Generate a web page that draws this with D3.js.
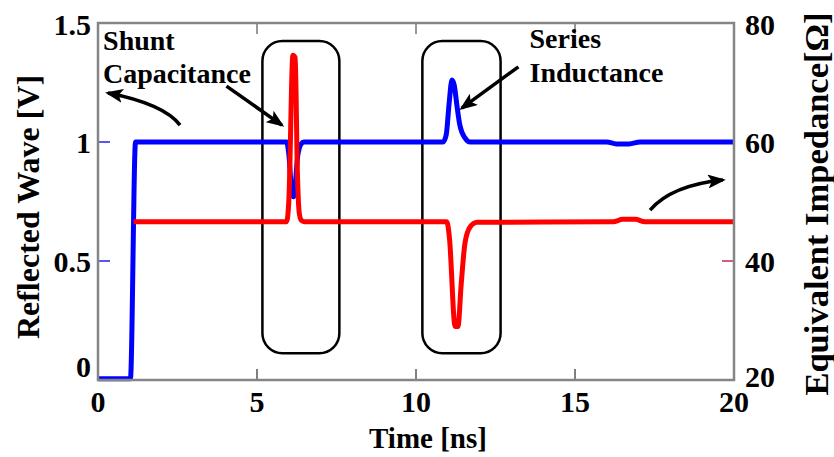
<!DOCTYPE html>
<html><head><meta charset="utf-8">
<script src="https://cdn.jsdelivr.net/npm/d3@7"></script>
<style>body{margin:0;background:#fff}svg{display:block}text{font-family:"Liberation Serif","Times New Roman",serif;font-weight:bold;fill:#000}</style>
</head><body><svg id="c" width="834" height="457"></svg>
<script>
// ---- data ----
const xTicks = [0, 5, 10, 15, 20];
const leftTicks = [0, 0.5, 1, 1.5];
const leftTickLabels = ["0", "0.5", "1", "1.5"];
const rightTicks = [20, 40, 60, 80];
// Reflected wave [V] (blue)
const reflT = [0, 1.02, 1.18, 5.93, 6.0, 6.1, 6.15, 6.29, 6.38, 6.48, 10.85, 10.95, 11.04, 11.13, 11.2, 11.3, 11.38, 11.54, 11.7, 16.0, 16.3, 16.7, 17.05, 20];
const reflV = [0.005, 0.005, 1, 1, 0.95, 0.78, 0.77, 0.95, 0.99, 1, 1, 1.03, 1.16, 1.26, 1.24, 1.14, 1.07, 1.017, 1, 1, 0.992, 0.992, 1, 1];
// Equivalent impedance [Ohm] (red)
const impT = [1.12, 5.93, 6.0, 6.13, 6.2, 6.27, 6.33, 6.4, 6.5, 10.97, 11.05, 11.23, 11.32, 11.42, 11.54, 11.7, 11.92, 16.2, 16.5, 16.9, 17.2, 20];
const impV = [46.6, 46.6, 50, 74.6, 74.2, 55, 48, 46.8, 46.6, 46.6, 44, 29, 29, 36, 43.0, 45.7, 46.5, 46.6, 47.0, 47.0, 46.6, 46.6];
// annotation boxes (time, volts)
const boxT0 = [5.17, 10.2], boxT1 = [7.59, 12.66];
const boxV0 = [0.112, 0.112], boxV1 = [1.424, 1.424];
// annotation labels
const labelText = ["Shunt", "Capacitance", "Series", "Inductance"];
const labelT = [0.16, 0.16, 13.57, 13.57];
const labelV = [1.387, 1.248, 1.395, 1.253];
// straight arrows
const sArrowT0 = [4.04, 13.22], sArrowV0 = [1.235, 1.316];
const sArrowT1 = [5.78, 11.44], sArrowV1 = [1.071, 1.142];
// curved arrows: start, control, end
const cArrowT = [[2.58, 2.075, 0.314], [17.36, 18.05, 19.65]];
const cArrowV = [[1.071, 1.160, 1.206], [0.714, 0.819, 0.840]];

// ---- layout ----
const L = 98, R = 734, T = 23, B = 380;
const svg = d3.select("#c");
const x = d3.scaleLinear().domain([0, 20]).range([L, R]);
const yL = d3.scaleLinear().domain([0, 1.5]).range([B, T]);
const yR = d3.scaleLinear().domain([20, 80]).range([B, T]);

svg.append("defs").append("marker").attr("id", "ah")
  .attr("markerUnits", "userSpaceOnUse").attr("viewBox", "0 0 18 14")
  .attr("markerWidth", 18).attr("markerHeight", 14).attr("refX", 15).attr("refY", 7)
  .attr("orient", "auto")
  .append("path").attr("d", "M0,0 L18,7 L0,14 L4,7 Z").attr("fill", "#000");

// inner ticks
const g = svg.append("g");
xTicks.slice(1, -1).forEach(v => {
  g.append("line").attr("x1", x(v)).attr("x2", x(v)).attr("y1", B).attr("y2", B - 11).attr("stroke", "#000").attr("stroke-width", 1);
  g.append("line").attr("x1", x(v)).attr("x2", x(v)).attr("y1", T).attr("y2", T + 11).attr("stroke", "#333").attr("stroke-width", 1);
});
leftTicks.forEach(v => g.append("line").attr("x1", L).attr("x2", L + 12).attr("y1", yL(v)).attr("y2", yL(v)).attr("stroke", "#2222ee").attr("stroke-width", 1.5));
rightTicks.forEach(v => g.append("line").attr("x1", R).attr("x2", R - 12).attr("y1", yR(v)).attr("y2", yR(v)).attr("stroke", "#c02858").attr("stroke-width", 1.5));

// boxes
boxT0.forEach((t0, i) => {
  svg.append("rect").attr("x", x(t0)).attr("y", yL(boxV1[i]))
    .attr("width", x(boxT1[i]) - x(t0)).attr("height", yL(boxV0[i]) - yL(boxV1[i]))
    .attr("rx", 20).attr("ry", 20).attr("fill", "none").attr("stroke", "#000").attr("stroke-width", 2.5);
});

// series lines
const reflData = reflT.map((t, i) => [t, reflV[i]]);
const impData = impT.map((t, i) => [t, impV[i]]);
svg.append("path").datum(reflData)
  .attr("d", d3.line().x(d => x(d[0])).y(d => yL(d[1])).curve(d3.curveMonotoneX))
  .attr("fill", "none").attr("stroke", "#0000ff").attr("stroke-width", 5).attr("stroke-linejoin", "round");
svg.append("path").datum(impData)
  .attr("d", d3.line().x(d => x(d[0])).y(d => yR(d[1])).curve(d3.curveMonotoneX))
  .attr("fill", "none").attr("stroke", "#ff0000").attr("stroke-width", 5).attr("stroke-linejoin", "round");

// frame
svg.append("rect").attr("x", L).attr("y", T).attr("width", R - L).attr("height", B - T)
  .attr("fill", "none").attr("stroke", "#858585").attr("stroke-width", 2.5);

// arrows
sArrowT0.forEach((t, i) => {
  svg.append("line").attr("x1", x(t)).attr("y1", yL(sArrowV0[i])).attr("x2", x(sArrowT1[i])).attr("y2", yL(sArrowV1[i]))
    .attr("stroke", "#000").attr("stroke-width", 3.5).attr("marker-end", "url(#ah)");
});
cArrowT.forEach((ts, i) => {
  const p = d3.path();
  p.moveTo(x(ts[0]), yL(cArrowV[i][0]));
  p.quadraticCurveTo(x(ts[1]), yL(cArrowV[i][1]), x(ts[2]), yL(cArrowV[i][2]));
  svg.append("path").attr("d", p.toString()).attr("fill", "none").attr("stroke", "#000")
    .attr("stroke-width", 3.5).attr("marker-end", "url(#ah)");
});

// labels
labelText.forEach((s, i) => svg.append("text").attr("x", x(labelT[i])).attr("y", yL(labelV[i])).attr("font-size", 28).text(s));

// tick labels
xTicks.forEach(v => svg.append("text").attr("x", x(v)).attr("y", 412).attr("text-anchor", "middle").attr("font-size", 30).text(v));
leftTicks.forEach((v, i) => {
  const yy = Math.max(35, Math.min(377, yL(v) + 10.5));
  svg.append("text").attr("x", 91).attr("y", yy).attr("text-anchor", "end").attr("font-size", 30).text(leftTickLabels[i]);
});
rightTicks.forEach(v => {
  const yy = Math.max(35, Math.min(387, yR(v) + 11));
  svg.append("text").attr("x", 745).attr("y", yy).attr("text-anchor", "start").attr("font-size", 30).text(v);
});

// axis titles
svg.append("text").attr("x", 428).attr("y", 448).attr("text-anchor", "middle").attr("font-size", 29).text("Time [ns]");
svg.append("text").attr("transform", "translate(39,207) rotate(-90)").attr("text-anchor", "middle").attr("font-size", 32).text("Reflected Wave [V]");
svg.append("text").attr("transform", "translate(828,204) rotate(-90)").attr("text-anchor", "middle").attr("font-size", 34.5).text("Equivalent Impedance[Ω]");
</script></body></html>
